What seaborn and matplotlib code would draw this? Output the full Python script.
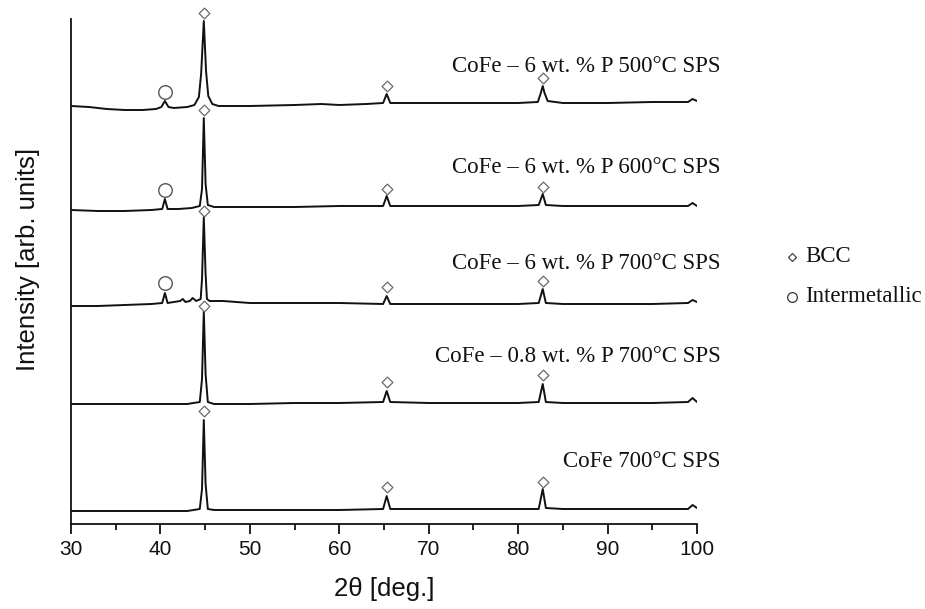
import matplotlib
matplotlib.use("Agg")
import matplotlib.pyplot as plt
from matplotlib.lines import Line2D
import seaborn as sns
import pandas as pd

# ---------------- data (arbitrary intensity units) ----------------
labels = ["CoFe \u2013 6 wt. % P 500\u00b0C SPS",
          "CoFe \u2013 6 wt. % P 600\u00b0C SPS",
          "CoFe \u2013 6 wt. % P 700\u00b0C SPS",
          "CoFe \u2013 0.8 wt. % P 700\u00b0C SPS",
          "CoFe 700\u00b0C SPS"]

x_500 = [30, 32, 34, 36, 38, 39.5, 40.1, 40.5, 40.9, 41.5, 43, 43.8, 44.3, 44.55, 44.85, 45.1, 45.35,
         45.8, 46.5, 50, 55, 58, 60, 63, 64.9, 65.3, 65.7, 67, 70, 75, 80, 82.2, 82.5, 82.75, 82.95,
         83.3, 85, 90, 95, 99, 99.5, 100]
y_500 = [418, 417, 415, 414, 414, 415, 417, 423, 417, 416, 417, 419, 427, 450, 503, 453, 428,
         420, 418, 418, 419, 420, 419, 420, 421, 430, 421, 421, 421, 421, 421, 422, 430, 438, 431,
         423, 421, 421, 422, 422, 425, 423]

x_600 = [30, 33, 36, 39, 40.2, 40.5, 40.8, 42, 43.5, 44.4, 44.65, 44.85, 45.05, 45.3, 46, 50, 55,
         60, 64.9, 65.3, 65.7, 70, 75, 80, 82.3, 82.75, 83.1, 85, 90, 95, 99, 99.5, 100]
y_600 = [314, 313, 313, 314, 315, 325, 315, 315, 316, 318, 335, 406, 340, 319, 317, 317, 317,
         318, 318, 328, 318, 318, 318, 318, 319, 330, 319, 318, 318, 318, 318, 321, 318]

x_700 = [30, 33, 36, 39, 40.2, 40.5, 40.8, 41.5, 42.2, 42.5, 42.8, 43.3, 43.6, 44.0, 44.5, 44.65,
         44.85, 45.05, 45.2, 45.5, 47, 50, 55, 60, 64.9, 65.3, 65.7, 70, 75, 80, 82.3, 82.75, 83.1,
         85, 90, 95, 99, 99.5, 100]
y_700 = [218, 218, 219, 220, 221, 231, 221, 222, 223, 225, 222, 223, 226, 223, 225, 245,
         307, 250, 225, 223, 223, 221, 221, 221, 220, 228, 220, 220, 220, 220, 221, 235, 221,
         220, 220, 220, 221, 224, 222]

x_08 = [30, 35, 40, 43, 44.4, 44.65, 44.85, 45.05, 45.3, 46, 50, 55, 60, 64.9, 65.3, 65.7, 70, 75,
        80, 82.3, 82.75, 83.1, 85, 90, 95, 99, 99.5, 100]
y_08 = [120, 120, 120, 120, 122, 145, 213, 150, 122, 120, 120, 121, 121, 122, 133, 122, 121, 121,
        121, 122, 140, 122, 121, 121, 121, 122, 126, 122]

x_cofe = [30, 35, 40, 43, 44.4, 44.65, 44.85, 45.05, 45.3, 46, 50, 55, 60, 64.9, 65.3, 65.7, 70,
          75, 80, 82.3, 82.75, 83.1, 85, 90, 95, 99, 99.5, 100]
y_cofe = [13, 13, 13, 13, 15, 35, 104, 40, 15, 14, 14, 14, 14, 15, 28, 15, 15,
          15, 15, 15, 35, 16, 15, 15, 15, 15, 19, 16]

# phase markers
bcc_x = [44.85, 65.3, 82.75] * 5
bcc_y = [511, 438, 446,
         414, 335, 337,
         313, 237, 243,
         218, 142, 149,
         113, 37, 42]
inter_x = [40.55, 40.55, 40.55]
inter_y = [432, 334, 241]

legend_labels = ["BCC", "Intermetallic"]

# ---------------- build long table ----------------
xs = [x_500, x_600, x_700, x_08, x_cofe]
ys = [y_500, y_600, y_700, y_08, y_cofe]
rows = []
for lab, xx, yy in zip(labels, xs, ys):
    for a, b in zip(xx, yy):
        rows.append({"two_theta": a, "intensity": b, "sample": lab})
df = pd.DataFrame(rows)

# ---------------- plot ----------------
sns.set_theme(style="white")
plt.rcParams["font.family"] = ["Liberation Sans", "DejaVu Sans"]

W, H = 925, 609
fig = plt.figure(figsize=(W / 100, H / 100), dpi=100)
ax = fig.add_axes([71 / W, 1 - 524 / H, (697 - 71) / W, (524 - 19) / H])

sns.lineplot(data=df, x="two_theta", y="intensity", hue="sample",
             palette=["#111111"] * 5, linewidth=1.4, legend=False, ax=ax,
             estimator=None, sort=True)

sns.scatterplot(x=bcc_x, y=bcc_y, marker="D", s=30, facecolor="white",
                edgecolor="#6a6a6a", linewidth=0.9, ax=ax, zorder=5, clip_on=False)
sns.scatterplot(x=inter_x, y=inter_y, marker="o", s=95, facecolor="white",
                edgecolor="#555555", linewidth=1.0, ax=ax, zorder=5, clip_on=False)

ax.set_xlim(30, 100)
ax.set_ylim(0, 505)
ax.set_yticks([])
ax.set_xticks(range(30, 101, 10))
ax.set_xticks(range(35, 100, 10), minor=True)
ax.tick_params(axis="x", which="major", direction="out", length=7.2, width=1.3,
               labelsize=15, color="#111111", labelcolor="#111111", pad=4, bottom=True)
ax.tick_params(axis="x", which="minor", direction="out", length=4.3, width=1.3,
               color="#111111", bottom=True)
for side in ["top", "right"]:
    ax.spines[side].set_visible(False)
for side in ["left", "bottom"]:
    ax.spines[side].set_color("#111111")
    ax.spines[side].set_linewidth(1.3)

ax.set_xlabel("2\u03b8 [deg.]", fontsize=18.5, color="#111111")
ax.set_ylabel("Intensity [arb. units]", fontsize=18.5, color="#111111")
ax.xaxis.set_label_coords(0.5, -0.105)
ax.yaxis.set_label_coords(-0.05, 0.524)

# sample labels (serif), right aligned
label_x = 102.6
label_y = [452, 351, 255, 162, 57]
for lab, ly in zip(labels, label_y):
    ax.text(label_x, ly, lab, ha="right", va="baseline", fontsize=16.5,
            family=["Liberation Serif", "DejaVu Serif"], color="#111111", clip_on=False)

# legend drawn in figure pixels
leg_mark_x = 792 / W
leg_rows = [257, 297]
fig.add_artist(Line2D([leg_mark_x], [1 - leg_rows[0] / H], marker="D", markersize=4.2,
                      markerfacecolor="white", markeredgecolor="#444444", markeredgewidth=0.9,
                      linestyle="none", transform=fig.transFigure))
fig.add_artist(Line2D([leg_mark_x], [1 - leg_rows[1] / H], marker="o", markersize=7,
                      markerfacecolor="white", markeredgecolor="#333333", markeredgewidth=0.9,
                      linestyle="none", transform=fig.transFigure))
for txt, ry in zip(legend_labels, leg_rows):
    fig.text(805 / W, 1 - ry / H, txt, ha="left", va="center", fontsize=16.5,
             family=["Liberation Serif", "DejaVu Serif"], color="#111111")

fig.savefig("out.png", dpi=100)
